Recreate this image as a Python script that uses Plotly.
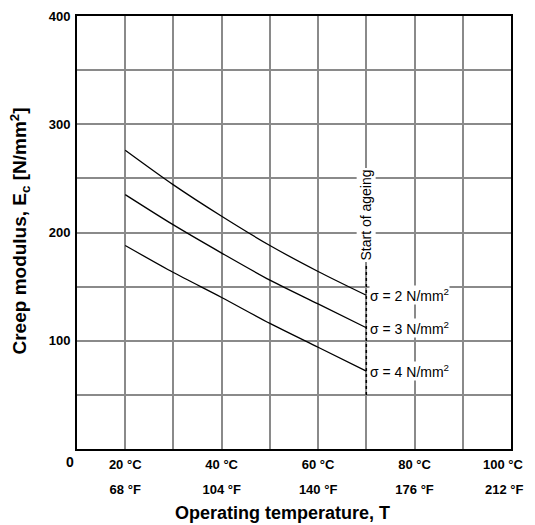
import plotly.graph_objects as go

# Data (temperature in °C; axis starts at "0" placed one grid step left of 20 °C)
temps = [20, 30, 40, 50, 60, 70]
sigma2 = [276, 244, 215, 188, 164, 142]
sigma3 = [235, 207, 181, 156, 134, 112]
sigma4 = [188, 163, 140, 116, 94, 72]
series = [("σ = 2 N/mm<sup>2</sup>", sigma2),
          ("σ = 3 N/mm<sup>2</sup>", sigma3),
          ("σ = 4 N/mm<sup>2</sup>", sigma4)]

ageing_temp = 70
ageing_span = [50, 170]

x_tickvals = [20, 40, 60, 80, 100]
x_c_labels = ["20 °C", "40 °C", "60 °C", "80 °C", "100 °C"]
x_f_labels = ["68 °F", "104 °F", "140 °F", "176 °F", "212 °F"]
y_tickvals = [100, 200, 300, 400]
y_ticktext = ["100", "200", "300", "400"]
grid_x = list(range(10, 101, 10))
grid_y = list(range(0, 401, 50))

FONT = "Liberation Sans"
GRID = "#8a8a8a"

fig = go.Figure()
for name, vals in series:
    fig.add_trace(go.Scatter(x=temps, y=vals, mode="lines",
                             line=dict(color="black", width=1.3, shape="spline",
                                       smoothing=0.8),
                             showlegend=False, hoverinfo="skip"))

fig.add_trace(go.Scatter(x=[ageing_temp, ageing_temp], y=ageing_span, mode="lines",
                         line=dict(color="black", width=1.5, dash="dot"),
                         showlegend=False, hoverinfo="skip"))

# invisible trace for the °F axis
fig.add_trace(go.Scatter(x=[10, 100], y=[None, None], xaxis="x2", showlegend=False,
                         hoverinfo="skip"))

annotations = []
for name, vals in series:
    annotations.append(dict(x=temps[-1], y=vals[-1], xref="x", yref="y",
                            text=name, showarrow=False, xanchor="left",
                            yanchor="middle", xshift=3, bgcolor="white",
                            borderpad=0,
                            font=dict(family=FONT, size=14, color="black")))
annotations.append(dict(x=ageing_temp, y=(ageing_span[1] + 262) / 2, xref="x", yref="y",
                        text="Start of ageing", textangle=-90, showarrow=False,
                        bgcolor="white", borderpad=1,
                        font=dict(family=FONT, size=14, color="black")))
annotations.append(dict(x=0, y=0, xref="paper", yref="paper", text="<b>0</b>",
                        showarrow=False, xanchor="right", yanchor="top",
                        xshift=-1, yshift=-3,
                        font=dict(family=FONT, size=14, color="black")))
# last tick labels are right-aligned so they stay inside the page
for i, (c_lab, f_lab) in enumerate(zip(x_c_labels, x_f_labels)):
    if x_tickvals[i] == 100:
        annotations.append(dict(x=x_tickvals[i], y=0, xref="x", yref="paper",
                                text="<b>%s</b>" % c_lab, showarrow=False,
                                xanchor="right", yanchor="middle",
                                xshift=15, yshift=-15,
                                font=dict(family=FONT, size=13, color="black")))
        annotations.append(dict(x=x_tickvals[i], y=0, xref="x", yref="paper",
                                text="<b>%s</b>" % f_lab, showarrow=False,
                                xanchor="right", yanchor="middle",
                                xshift=15, yshift=-40,
                                font=dict(family=FONT, size=13, color="black")))
annotations.append(dict(x=0.5, y=0, xref="paper", yref="paper",
                        text="<b>Operating temperature, T</b>", showarrow=False,
                        yanchor="middle", yshift=-64, xshift=-12,
                        font=dict(family=FONT, size=18, color="black")))
annotations.append(dict(x=0, y=0.5, xref="paper", yref="paper",
                        text="<b>Creep modulus, E<sub>c</sub> [N/mm<sup>2</sup>]</b>",
                        textangle=-90, showarrow=False, xanchor="center",
                        xshift=-57, yshift=1,
                        font=dict(family=FONT, size=19, color="black")))

tv = [v for v in x_tickvals if v != 100]

# the page body adds an 8px offset, so the figure is 8px smaller and margins shifted
fig.update_layout(
    width=527, height=517,
    margin=dict(l=69, r=24, t=8, b=76, autoexpand=False),
    plot_bgcolor="white", paper_bgcolor="white",
    annotations=annotations,
    xaxis=dict(range=[10, 100], tickmode="array", tickvals=tv,
               ticktext=["<b>%s</b>" % t for t in x_c_labels[:len(tv)]],
               ticks="", ticklabelstandoff=2, automargin=False,
               showgrid=False, zeroline=False,
               minor=dict(tickmode="array", tickvals=grid_x, showgrid=True,
                          gridcolor=GRID, gridwidth=1.5, ticks=""),
               showline=True, linecolor="black", linewidth=2, mirror=True,
               tickfont=dict(family=FONT, size=13, color="black")),
    xaxis2=dict(range=[10, 100], overlaying="x", side="bottom", anchor="y",
                tickmode="array", tickvals=tv,
                ticktext=["<b>%s</b>" % t for t in x_f_labels[:len(tv)]],
                ticks="", ticklabelstandoff=31, automargin=False,
                showgrid=False, zeroline=False, showline=False,
                tickfont=dict(family=FONT, size=13, color="black")),
    yaxis=dict(range=[0, 400], tickmode="array", tickvals=y_tickvals,
               ticktext=["<b>%s</b>" % t for t in y_ticktext],
               ticks="", ticklabelstandoff=2, automargin=False,
               showgrid=False, zeroline=False,
               minor=dict(tickmode="array", tickvals=grid_y, showgrid=True,
                          gridcolor=GRID, gridwidth=1.5, ticks=""),
               showline=True, linecolor="black", linewidth=2, mirror=True,
               tickfont=dict(family=FONT, size=13, color="black")),
)

fig.write_html("out.html")
